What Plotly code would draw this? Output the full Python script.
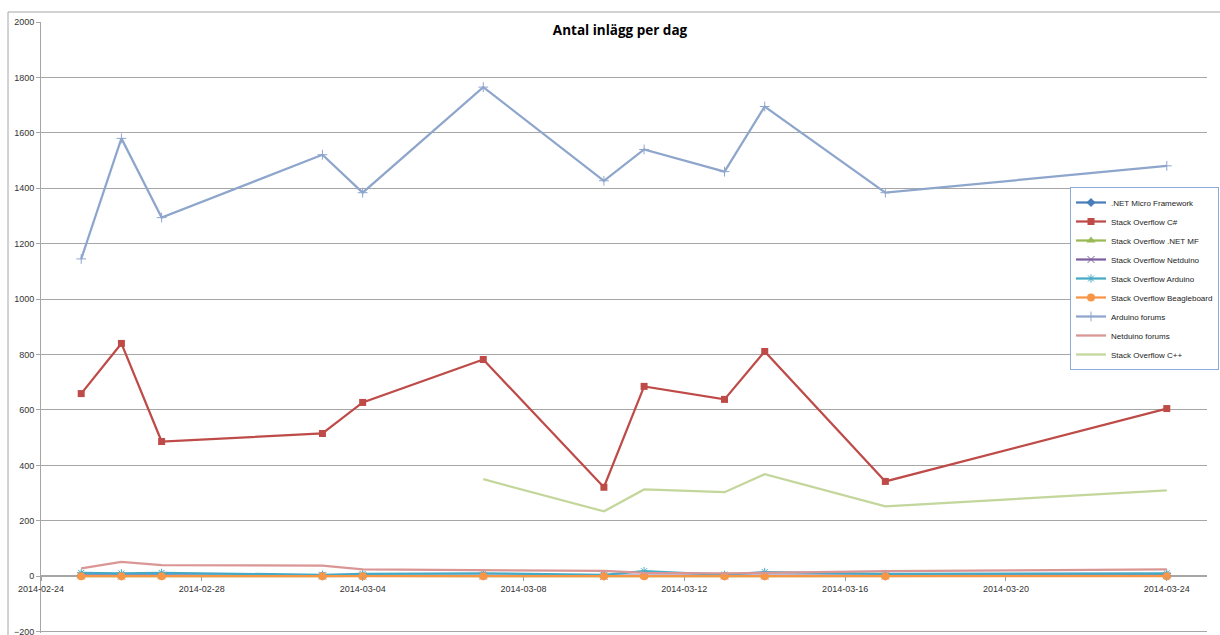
import plotly.graph_objects as go

dates = ["2014-02-25", "2014-02-26", "2014-02-27", "2014-03-03", "2014-03-04",
         "2014-03-07", "2014-03-10", "2014-03-11", "2014-03-13", "2014-03-14",
         "2014-03-17", "2014-03-24"]

netmf_forum = [2, 1, 2, 1, 1, 2, 1, 2, 1, 1, 1, 2]
so_csharp = [659, 840, 486, 515, 627, 782, 321, 685, 638, 811, 342, 605]
so_netmf = [0, 1, 0, 0, 1, 0, 0, 1, 0, 0, 0, 1]
so_netduino = [2, 1, 2, 1, 1, 1, 0, 2, 1, 1, 1, 2]
so_arduino = [12, 10, 12, 5, 8, 10, 5, 18, 5, 15, 8, 10]
so_beagle = [0, 0, 0, 0, 0, 0, 0, 0, 0, 0, 0, 0]
arduino_forums = [1145, 1580, 1294, 1521, 1384, 1765, 1427, 1540, 1460, 1695, 1384, 1481]
netduino_forums = [28, 52, 40, 38, 25, 22, 19, 12, 10, 12, 18, 25]
so_cpp = [None, None, None, None, None, 350, 234, 313, 303, 368, 252, 310]

series = [
    (".NET Micro Framework", netmf_forum, "#4a7ebb", "diamond", 7, 0),
    ("Stack Overflow C#", so_csharp, "#be4b48", "square", 7, 0),
    ("Stack Overflow .NET MF", so_netmf, "#98b954", "triangle-up", 8, 0),
    ("Stack Overflow Netduino", so_netduino, "#7d60a0", "x-thin-open", 7, 1),
    ("Stack Overflow Arduino", so_arduino, "#46aac5", "asterisk-open", 7, 1),
    ("Stack Overflow Beagleboard", so_beagle, "#f79646", "circle", 8, 0),
    ("Arduino forums", arduino_forums, "#8ea5cc", "cross-thin-open", 7, 1),
    ("Netduino forums", netduino_forums, "#d99694", None, 0, 0),
    ("Stack Overflow C++", so_cpp, "#c3d69b", None, 0, 0),
]

fig = go.Figure()
for name, vals, color, sym, size, lw in series:
    if sym is None:
        fig.add_trace(go.Scatter(x=dates, y=vals, name=name, mode="lines",
                                 line=dict(color=color, width=2.25)))
    else:
        fig.add_trace(go.Scatter(x=dates, y=vals, name=name, mode="lines+markers",
                                 line=dict(color=color, width=2.25),
                                 marker=dict(symbol=sym, size=size, color=color,
                                             line=dict(color=color, width=lw))))

fig.update_layout(
    width=1220, height=635,
    margin=dict(l=41, r=13, t=22, b=2, autoexpand=False),
    paper_bgcolor="white", plot_bgcolor="white",
    font=dict(family="Liberation Sans, Arial, sans-serif", size=9, color="#333333"),
    title=dict(text="<b>Antal inlägg per dag</b>", x=0.4966, xref="paper", xanchor="center",
               y=0.986, yref="paper", yanchor="middle",
               font=dict(family="Open Sans, Liberation Sans, sans-serif", size=13.5, color="#000000")),
    showlegend=True,
    legend=dict(x=(1070 - 41) / 1166, y=(633 - 187) / 611,
                xanchor="left", yanchor="top",
                bgcolor="white", bordercolor="#8eaadb", borderwidth=1,
                font=dict(family="Liberation Sans, sans-serif", size=8, color="#222222"),
                itemwidth=30, tracegroupgap=0),
    xaxis=dict(type="date", range=["2014-02-24", "2014-03-25"],
               tickvals=["2014-02-24", "2014-02-28", "2014-03-04", "2014-03-08",
                         "2014-03-12", "2014-03-16", "2014-03-20", "2014-03-24"],
               tickformat="%Y-%m-%d", showgrid=False, zeroline=False,
               showline=False, ticks="outside", ticklen=4, tickcolor="#a0a0a0",
               anchor="free", position=205/2205,
               tickfont=dict(size=9, color="#333333")),
    yaxis=dict(range=[-205, 2000], tickvals=list(range(-200, 2001, 200)),
               showgrid=True, gridcolor="#a6a6a6", ticklabeloverflow="allow",
               gridwidth=1, zeroline=True, zerolinecolor="#a6a6a6", zerolinewidth=1.5,
               showline=True, linecolor="#a6a6a6", linewidth=1,
               ticks="outside", ticklen=4, tickcolor="#a6a6a6",
               tickfont=dict(size=9, color="#333333")),
)

# outer chart border
fig.add_shape(type="line", xref="paper", yref="paper", x0=-33/1166, x1=-33/1166,
              y0=-0.01, y1=(633-12)/611, line=dict(color="#a6a6a6", width=1))
fig.add_shape(type="line", xref="paper", yref="paper", x0=-33/1166, x1=1.02,
              y0=(633-12)/611, y1=(633-12)/611, line=dict(color="#a6a6a6", width=1))

fig.write_html("out.html")
